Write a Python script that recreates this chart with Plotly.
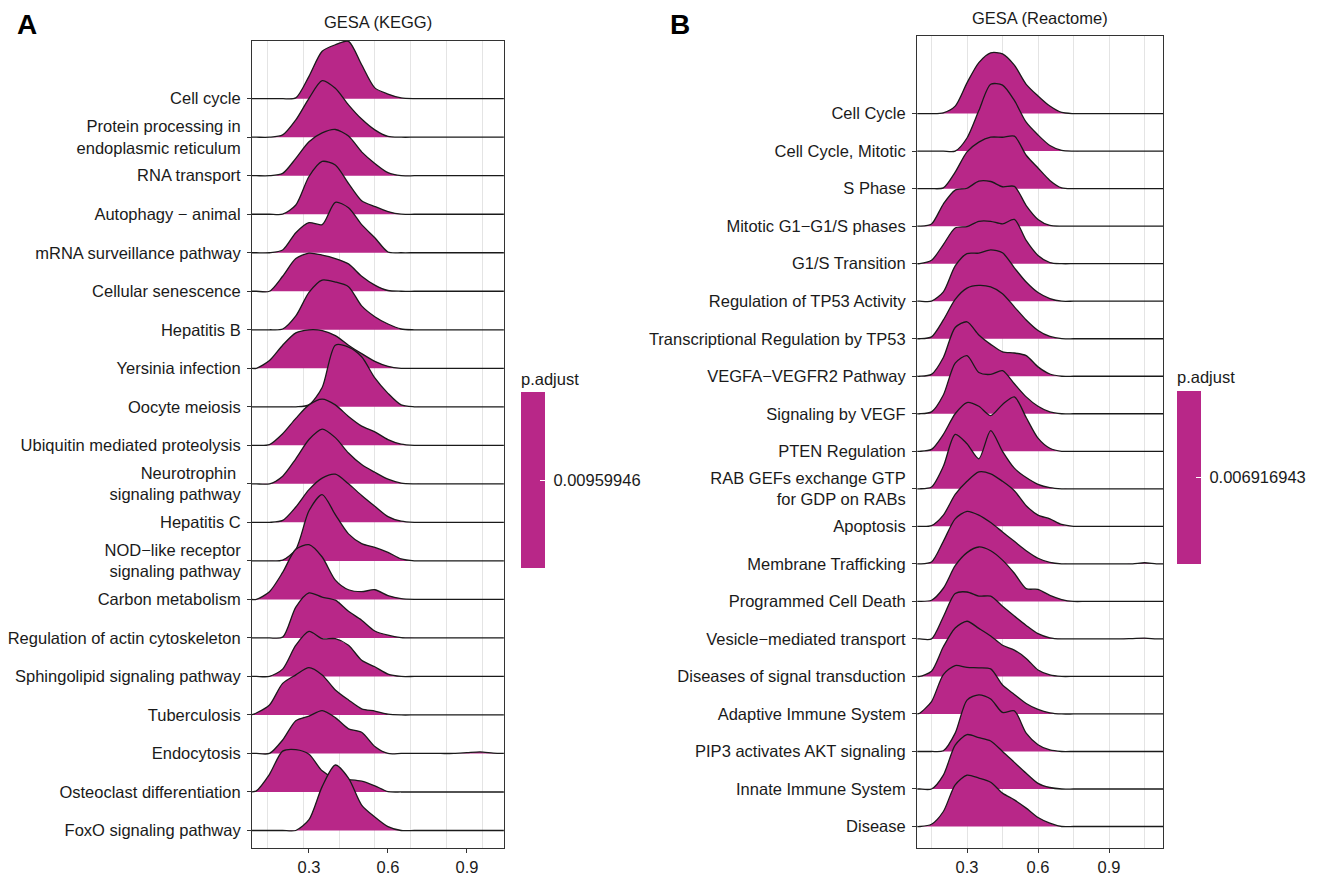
import plotly.graph_objects as go

# ---------------- data ----------------
kegg_terms = [
    "Cell cycle", "Protein processing in<br>endoplasmic reticulum", "RNA transport",
    "Autophagy − animal", "mRNA surveillance pathway", "Cellular senescence",
    "Hepatitis B", "Yersinia infection", "Oocyte meiosis",
    "Ubiquitin mediated proteolysis", "Neurotrophin <br>signaling pathway", "Hepatitis C",
    "NOD−like receptor<br>signaling pathway", "Carbon metabolism",
    "Regulation of actin cytoskeleton", "Sphingolipid signaling pathway",
    "Tuberculosis", "Endocytosis", "Osteoclast differentiation", "FoxO signaling pathway",
]
kegg_x = [0.08, 0.10, 0.15, 0.20, 0.25, 0.30, 0.35, 0.40, 0.45, 0.50, 0.55,
          0.60, 0.65, 0.70, 0.75, 0.80, 0.85, 0.90, 0.95, 1.00, 1.04]
kegg_heights = [
    [0, 0, 0, 0, 0.02, 0.58, 1.23, 1.40, 1.49, 0.88, 0.28, 0.12, 0.02, 0, 0, 0, 0, 0, 0, 0, 0],
    [0, 0, 0, 0.06, 0.45, 1.01, 1.47, 1.27, 0.84, 0.47, 0.19, 0.02, 0, 0, 0, 0, 0, 0, 0, 0, 0],
    [0, 0, 0, 0.06, 0.45, 0.88, 1.11, 1.20, 1.03, 0.62, 0.32, 0.08, 0, 0, 0, 0, 0, 0, 0, 0, 0],
    [0, 0, 0, 0, 0.24, 0.98, 1.37, 1.28, 0.80, 0.35, 0.20, 0.07, 0, 0, 0, 0, 0, 0, 0, 0, 0],
    [0, 0, 0, 0.07, 0.52, 0.78, 0.73, 1.31, 1.17, 0.73, 0.39, 0.02, 0, 0, 0, 0, 0, 0, 0, 0, 0],
    [0, 0, 0, 0.39, 0.85, 0.99, 0.94, 0.85, 0.71, 0.39, 0.16, 0.02, 0, 0, 0, 0, 0, 0, 0, 0, 0],
    [0, 0, 0, 0.02, 0.36, 0.97, 1.29, 1.24, 1.12, 0.62, 0.34, 0.15, 0.02, 0, 0, 0, 0, 0, 0, 0, 0],
    [0, 0, 0.20, 0.60, 0.92, 1.00, 0.98, 0.85, 0.60, 0.38, 0.18, 0.05, 0, 0, 0, 0, 0, 0, 0, 0, 0],
    [0, 0, 0, 0, 0, 0.05, 0.50, 1.60, 1.55, 1.30, 0.75, 0.35, 0.05, 0, 0, 0, 0, 0, 0, 0, 0],
    [0, 0, 0.02, 0.30, 0.70, 1.05, 1.20, 1.05, 0.75, 0.50, 0.35, 0.15, 0.03, 0, 0, 0, 0, 0, 0, 0, 0],
    [0, 0, 0, 0.20, 0.65, 1.15, 1.42, 1.20, 0.80, 0.50, 0.30, 0.12, 0.02, 0, 0, 0, 0, 0, 0, 0, 0],
    [0, 0, 0, 0.05, 0.40, 0.85, 1.15, 1.25, 1.00, 0.70, 0.42, 0.15, 0.03, 0, 0, 0, 0, 0, 0, 0, 0],
    [0, 0, 0, 0.02, 0.30, 1.30, 1.72, 1.20, 0.70, 0.45, 0.35, 0.22, 0.05, 0, 0, 0, 0, 0, 0, 0, 0],
    [0, 0, 0.20, 0.70, 1.30, 1.42, 1.10, 0.50, 0.25, 0.20, 0.25, 0.10, 0.02, 0, 0, 0, 0, 0, 0, 0, 0],
    [0, 0, 0, 0.02, 0.80, 1.17, 1.06, 0.98, 0.69, 0.46, 0.18, 0.07, 0.01, 0, 0, 0, 0, 0, 0, 0, 0],
    [0, 0, 0, 0.19, 0.81, 1.17, 0.98, 0.98, 0.81, 0.42, 0.25, 0.06, 0, 0, 0, 0, 0, 0, 0, 0, 0],
    [0, 0.05, 0.26, 0.82, 1.04, 1.23, 1.04, 0.65, 0.39, 0.16, 0.10, 0.02, 0, 0, 0, 0, 0, 0, 0, 0, 0],
    [0, 0, 0, 0.35, 0.85, 0.97, 1.11, 0.93, 0.64, 0.55, 0.18, 0, 0, 0, 0, 0, 0, 0.02, 0.04, 0.01, 0],
    [0, 0.03, 0.46, 1.06, 1.10, 0.98, 0.55, 0.35, 0.32, 0.28, 0.16, 0.01, 0, 0, 0, 0, 0, 0, 0, 0, 0],
    [0, 0, 0, 0, 0, 0.28, 1.14, 1.70, 1.36, 0.66, 0.35, 0.10, 0, 0, 0, 0, 0, 0, 0, 0, 0],
]
kegg_padj = 0.00959946

reactome_terms = [
    "Cell Cycle", "Cell Cycle, Mitotic", "S Phase", "Mitotic G1−G1/S phases",
    "G1/S Transition", "Regulation of TP53 Activity", "Transcriptional Regulation by TP53",
    "VEGFA−VEGFR2 Pathway", "Signaling by VEGF", "PTEN Regulation",
    "RAB GEFs exchange GTP<br>for GDP on RABs", "Apoptosis", "Membrane Trafficking",
    "Programmed Cell Death", "Vesicle−mediated transport", "Diseases of signal transduction",
    "Adaptive Immune System", "PIP3 activates AKT signaling", "Innate Immune System", "Disease",
]
reactome_x = [0.09, 0.10, 0.15, 0.20, 0.25, 0.30, 0.35, 0.40, 0.45, 0.50, 0.55, 0.60,
              0.65, 0.70, 0.75, 0.80, 0.85, 0.90, 0.95, 1.00, 1.05, 1.10, 1.13]
reactome_heights = [
    [0, 0, 0, 0.02, 0.20, 0.82, 1.36, 1.62, 1.59, 1.29, 0.78, 0.47, 0.20, 0.03, 0, 0, 0, 0, 0, 0, 0, 0, 0],
    [0, 0, 0, 0, 0, 0.35, 1.08, 1.78, 1.76, 1.35, 0.77, 0.43, 0.15, 0.02, 0, 0, 0, 0, 0, 0, 0, 0, 0],
    [0, 0, 0, 0.02, 0.44, 0.98, 1.24, 1.37, 1.37, 1.40, 0.89, 0.55, 0.22, 0.02, 0, 0, 0, 0, 0, 0, 0, 0, 0],
    [0, 0, 0.06, 0.59, 0.96, 1.01, 1.20, 1.19, 1.05, 1.06, 0.55, 0.18, 0.02, 0, 0, 0, 0, 0, 0, 0, 0, 0, 0],
    [0, 0, 0.09, 0.51, 0.95, 0.99, 1.13, 1.13, 1.06, 1.18, 0.62, 0.22, 0.03, 0, 0, 0, 0, 0, 0, 0, 0, 0, 0],
    [0, 0, 0, 0.25, 0.94, 1.27, 1.28, 1.37, 1.29, 0.89, 0.51, 0.23, 0.07, 0, 0, 0, 0, 0, 0, 0, 0, 0, 0],
    [0, 0, 0.05, 0.50, 1.05, 1.35, 1.42, 1.38, 1.20, 0.85, 0.50, 0.22, 0.06, 0, 0, 0, 0, 0, 0, 0, 0, 0, 0],
    [0, 0, 0.05, 0.50, 1.30, 1.45, 1.10, 0.85, 0.65, 0.62, 0.55, 0.25, 0.06, 0, 0, 0, 0, 0, 0, 0, 0, 0, 0],
    [0, 0, 0.05, 0.50, 1.35, 1.55, 1.10, 1.05, 1.15, 0.80, 0.45, 0.20, 0.05, 0, 0, 0, 0, 0, 0, 0, 0, 0, 0],
    [0, 0, 0.05, 0.45, 1.00, 1.30, 1.20, 0.95, 1.25, 1.45, 0.90, 0.35, 0.08, 0, 0, 0, 0, 0, 0, 0, 0, 0, 0],
    [0, 0, 0.05, 0.60, 1.45, 1.20, 0.80, 1.55, 1.00, 0.55, 0.30, 0.12, 0.03, 0, 0, 0, 0, 0, 0, 0, 0, 0, 0],
    [0, 0, 0.02, 0.30, 0.85, 1.20, 1.45, 1.40, 1.20, 0.95, 0.55, 0.30, 0.20, 0.05, 0, 0, 0, 0, 0, 0, 0, 0, 0],
    [0, 0, 0.05, 0.60, 1.20, 1.40, 1.30, 1.10, 0.85, 0.60, 0.35, 0.15, 0.04, 0, 0, 0, 0, 0, 0, 0, 0.03, 0, 0],
    [0, 0, 0.03, 0.35, 0.95, 1.30, 1.45, 1.35, 1.10, 0.75, 0.34, 0.32, 0.16, 0.05, 0, 0, 0, 0, 0, 0, 0, 0, 0],
    [0, 0, 0, 0.59, 1.21, 1.25, 1.14, 1.14, 0.87, 0.61, 0.36, 0.14, 0.03, 0, 0, 0, 0, 0, 0, 0.01, 0.02, 0, 0],
    [0, 0, 0.14, 0.79, 1.29, 1.47, 1.28, 1.08, 0.83, 0.70, 0.48, 0.17, 0.04, 0, 0, 0, 0, 0, 0, 0, 0, 0, 0],
    [0, 0.02, 0.33, 1.05, 1.29, 1.24, 1.23, 1.20, 0.77, 0.52, 0.28, 0.12, 0.03, 0, 0, 0, 0, 0, 0, 0, 0, 0, 0],
    [0, 0, 0, 0.02, 0.49, 1.37, 1.51, 1.40, 1.04, 1.08, 0.49, 0.18, 0.04, 0, 0, 0, 0, 0, 0, 0, 0, 0, 0],
    [0, 0, 0, 0.37, 1.17, 1.45, 1.37, 1.28, 1.00, 0.71, 0.42, 0.15, 0.04, 0, 0, 0, 0, 0, 0, 0, 0, 0, 0],
    [0, 0, 0.06, 0.40, 1.11, 1.37, 1.29, 1.18, 0.89, 0.71, 0.49, 0.24, 0.09, 0, 0, 0, 0, 0, 0, 0, 0, 0, 0],
]
reactome_padj = 0.006916943

x_ticks = [0.3, 0.6, 0.9]

# ---------------- style ----------------
W, H = 1325, 876
FILL = "#B82788"
LINE = "#1a1a1a"
FONT = "Liberation Sans, Arial, Helvetica, sans-serif"
TXT = "#1a1a1a"
GRID = "#e4e4e4"

fig = go.Figure()


def add_ridges(terms, xs, heights, xa, ya):
    n = len(terms)
    for i, h in enumerate(heights):
        base = n - 1 - i
        fig.add_trace(go.Scatter(
            x=xs, y=[base + v for v in h], mode="lines",
            line=dict(color=LINE, width=1.3, shape="spline", smoothing=0.75),
            fill="toself", fillcolor=FILL,
            xaxis=xa, yaxis=ya, showlegend=False, hoverinfo="skip",
        ))


def add_scale(value, label, xa, ya, xpos, ycen, length):
    fig.add_trace(go.Scatter(
        x=[None], y=[None], mode="markers", xaxis=xa, yaxis=ya, showlegend=False,
        marker=dict(
            color=[value], cmin=value * 0.999, cmax=value * 1.001,
            colorscale=[[0, FILL], [1, FILL]], showscale=True,
            colorbar=dict(
                x=xpos, xanchor="left", y=ycen, yanchor="middle",
                len=length, lenmode="pixels", thickness=24, thicknessmode="pixels",
                xpad=0, ypad=0, outlinewidth=0,
                tickvals=[value], ticktext=["\u00a0" + label], ticks="inside", ticklen=5,
                tickcolor="white", tickwidth=1,
                tickfont=dict(family=FONT, size=16.5, color=TXT),
                title=dict(text="p.adjust", side="top",
                           font=dict(family=FONT, size=16.5, color=TXT)),
            ),
        ),
    ))


add_ridges(kegg_terms, kegg_x, kegg_heights, "x", "y")
add_ridges(reactome_terms, reactome_x, reactome_heights, "x2", "y2")
add_scale(kegg_padj, "0.00959946", "x", "y", 521 / W, 1 - 470 / H, 199)
add_scale(reactome_padj, "0.006916943", "x2", "y2", 1177 / W, 1 - 467 / H, 196)

axis_common = dict(
    showline=True, mirror=True, linecolor="#333333", linewidth=1,
    ticks="outside", ticklen=4, tickcolor="#333333", tickwidth=1,
    tickfont=dict(family=FONT, size=16.5, color=TXT), zeroline=False,
)

nA = len(kegg_terms)
nB = len(reactome_terms)

fig.update_layout(
    width=W, height=H, margin=dict(l=0, r=0, t=0, b=0),
    paper_bgcolor="white", plot_bgcolor="white",
    font=dict(family=FONT, size=16.5, color=TXT),
    xaxis=dict(domain=[252 / W, 504 / W], range=[0.0836, 1.0406], anchor="y",
               tickvals=x_ticks, ticktext=[str(v) for v in x_ticks], showgrid=False,
               minor=dict(tickmode="linear", tick0=0.1443, dtick=0.13546,
                          showgrid=True, gridcolor=GRID, gridwidth=1, ticks=""),
               **axis_common),
    yaxis=dict(domain=[1 - 850 / H, 1 - 41 / H], range=[-0.456, 20.50], anchor="x",
               tickvals=list(range(nA - 1, -1, -1)), ticktext=kegg_terms,
               showgrid=False, ticklabelstandoff=3, **axis_common),
    xaxis2=dict(domain=[917 / W, 1163 / W], range=[0.0887, 1.128], anchor="y2",
                tickvals=x_ticks, ticktext=[str(v) for v in x_ticks],
                showgrid=True, gridcolor=GRID, gridwidth=1,
                minor=dict(tickmode="linear", tick0=0.15, dtick=0.3,
                           showgrid=True, gridcolor=GRID, gridwidth=1, ticks=""),
                **axis_common),
    yaxis2=dict(domain=[1 - 850 / H, 1 - 36 / H], range=[-0.574, 21.07], anchor="x2",
                tickvals=list(range(nB - 1, -1, -1)), ticktext=reactome_terms,
                showgrid=False, ticklabelstandoff=3, **axis_common),
    annotations=[
        dict(text="<b>A</b>", x=15 / W, y=1 - 25 / H, xref="paper", yref="paper",
             xanchor="left", yanchor="middle", showarrow=False,
             font=dict(family=FONT, size=28, color="black")),
        dict(text="<b>B</b>", x=668 / W, y=1 - 25 / H, xref="paper", yref="paper",
             xanchor="left", yanchor="middle", showarrow=False,
             font=dict(family=FONT, size=28, color="black")),
        dict(text="GESA (KEGG)", x=378 / W, y=1 - 22 / H, xref="paper", yref="paper",
             xanchor="center", yanchor="middle", showarrow=False,
             font=dict(family=FONT, size=16.5, color=TXT)),
        dict(text="GESA (Reactome)", x=1040 / W, y=1 - 18 / H, xref="paper", yref="paper",
             xanchor="center", yanchor="middle", showarrow=False,
             font=dict(family=FONT, size=16.5, color=TXT)),
    ],
)

fig.write_html("out.html")
